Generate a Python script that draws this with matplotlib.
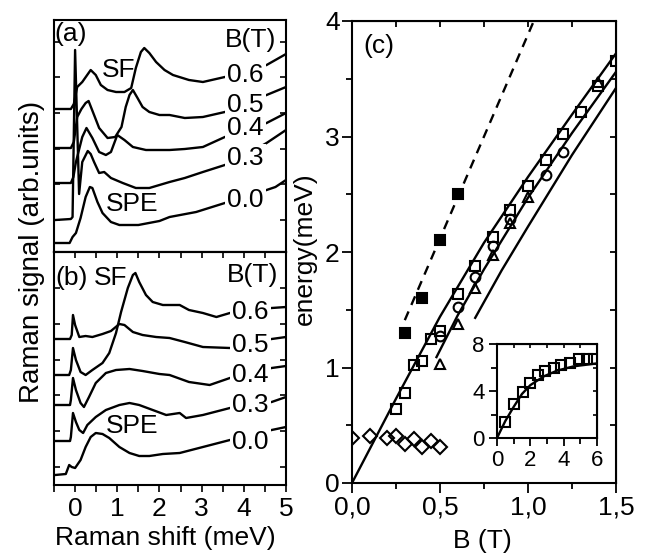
import matplotlib
matplotlib.use('Agg')
import matplotlib.pyplot as plt
from matplotlib.ticker import FixedLocator, MultipleLocator

plt.rcParams['font.family'] = ['Liberation Sans', 'DejaVu Sans']
plt.rcParams['font.size'] = 19

# ---------------- data: panel (a) Raman spectra (offset, arb. units) ----------
a_fields = ['0.6', '0.5', '0.4', '0.3', '0.0']
a06_x = [-0.47, -0.1, -0.03, 0.05, 0.17, 0.37, 0.49, 0.61, 0.77, 0.97, 1.17, 1.33, 1.44, 1.56, 1.64, 1.76, 1.92, 2.12, 2.32, 2.7, 3.03, 3.55, 4.0, 4.54, 5.0]
a06_y = [143, 143, 148, 165, 170, 182, 177, 167, 162, 160, 160, 164, 184, 200, 204, 199, 190, 182, 177, 172, 170, 175, 180, 187, 198]
a05_x = [-0.47, -0.1, -0.03, 0.05, 0.15, 0.25, 0.32, 0.45, 0.57, 0.77, 0.95, 1.1, 1.2, 1.29, 1.37, 1.48, 1.6, 1.76, 2.0, 2.24, 2.6, 3.03, 3.55, 4.0, 4.54, 5.0]
a05_y = [104, 104, 110, 135, 143, 149, 151, 137, 124, 114, 115, 125, 145, 157, 162, 154, 145, 140, 137, 137, 134, 135, 140, 148, 157, 165]
a04_x = [-0.47, -0.1, -0.04, 0.02, 0.08, 0.17, 0.27, 0.41, 0.57, 0.73, 0.85, 1.0, 1.17, 1.37, 1.68, 2.0, 2.24, 2.6, 3.03, 3.55, 4.0, 4.54, 5.0]
a04_y = [69, 69, 75, 90, 100, 115, 124, 114, 100, 97, 100, 117, 112, 105, 102, 102, 102, 103, 105, 115, 121, 129, 139]
a03_x = [-0.47, -0.1, -0.06, 0.0, 0.095, 0.17, 0.3, 0.37, 0.45, 0.57, 0.69, 0.85, 1.13, 1.44, 1.76, 2.24, 2.6, 3.03, 3.55, 4.0, 4.54, 5.0]
a03_y = [32, 33, 35, 202, 58, 90, 101, 98, 90, 79, 80, 74, 69, 64, 64, 70, 74, 80, 87, 96, 109, 122]
a00_x = [-0.47, -0.13, -0.06, 0.02, 0.13, 0.25, 0.35, 0.41, 0.53, 0.65, 0.85, 1.05, 1.5, 2.0, 2.24, 2.87, 3.55, 4.0, 4.54, 4.75, 5.0]
a00_y = [9, 9, 15, 19, 34, 55, 65, 64, 50, 39, 30, 27, 27, 31, 35, 40, 49, 55, 62, 65, 72]
a_label_y = [177, 147, 124, 94, 52]

# ---------------- data: panel (b) ----------------
b06_x = [-0.47, -0.14, -0.1, -0.05, 0.02, 0.13, 0.25, 0.41, 0.65, 0.81, 0.97, 1.09, 1.25, 1.37, 1.43, 1.52, 1.68, 1.84, 2.08, 2.48, 2.7, 3.03, 3.35, 3.67, 4.0, 4.66, 5.0]
b06_y = [110, 110, 115, 137, 125, 113, 110, 115, 122, 132, 152, 173, 197, 210, 212, 203, 190, 183, 180, 180, 175, 172, 168, 172, 174, 177, 178]
b05_x = [-0.47, -0.12, -0.08, -0.05, 0.0, 0.1, 0.25, 0.41, 0.65, 0.85, 1.05, 1.17, 1.37, 1.6, 1.92, 2.24, 2.6, 3.03, 3.67, 4.0, 4.66, 5.0]
b05_y = [146, 146, 150, 170, 160, 148, 149, 148, 151, 154, 161, 160, 153, 150, 148, 147, 143, 138, 137, 140, 146, 148]
b04_x = [-0.47, -0.12, -0.1, -0.05, 0.02, 0.13, 0.21, 0.33, 0.49, 0.73, 0.97, 1.29, 1.6, 2.0, 2.24, 2.7, 3.19, 3.67, 4.0, 4.66, 5.0]
b04_y = [80, 80, 85, 107, 95, 82, 78, 88, 102, 112, 115, 116, 114, 111, 110, 103, 100, 107, 110, 117, 119]
b03_x = [-0.47, -0.12, -0.1, -0.05, 0.02, 0.1, 0.19, 0.29, 0.49, 0.73, 1.05, 1.29, 1.52, 1.84, 2.16, 2.48, 2.63, 3.03, 3.67, 4.0, 4.66, 5.0]
b03_y = [44, 44, 48, 72, 63, 55, 52, 60, 68, 75, 80, 82, 80, 75, 70, 72, 67, 70, 77, 79, 83, 88]
b00_x = [-0.47, -0.22, -0.14, -0.08, 0.0, 0.13, 0.25, 0.37, 0.49, 0.65, 0.81, 1.05, 1.29, 1.52, 1.76, 2.08, 2.48, 3.03, 3.67, 4.0, 4.66, 5.0]
b00_y = [10, 11, 20, 18, 17, 25, 38, 48, 52, 51, 47, 38, 32, 29, 29, 31, 32, 38, 45, 48, 55, 58]
b_label_y = [173, 140, 110, 80, 43]

# ---------------- data: panel (c) ----------------
sq_B = [0.25, 0.3, 0.35, 0.4, 0.45, 0.5, 0.6, 0.7, 0.8, 0.9, 1.0, 1.1, 1.2, 1.3, 1.4, 1.5]
sq_E = [0.64, 0.78, 1.02, 1.06, 1.25, 1.32, 1.64, 1.88, 2.13, 2.36, 2.57, 2.80, 3.02, 3.21, 3.44, 3.65]
circ_B = [0.5, 0.6, 0.7, 0.8, 0.9, 1.1, 1.2]
circ_E = [1.27, 1.52, 1.78, 2.05, 2.29, 2.67, 2.87]
tri_B = [0.5, 0.6, 0.7, 0.8, 0.9, 1.0, 1.4]
tri_E = [1.03, 1.38, 1.69, 1.97, 2.25, 2.48, 3.47]
fill_B = [0.3, 0.4, 0.5, 0.6]
fill_E = [1.3, 1.6, 2.1, 2.5]
dia_B = [0.0, 0.1, 0.2, 0.25, 0.3, 0.35, 0.4, 0.45, 0.5]
dia_E = [0.39, 0.41, 0.39, 0.41, 0.34, 0.38, 0.31, 0.36, 0.31]
dash_B = [0.3, 1.05]
dash_E = [1.41, 4.06]
line1_B = [0.0, 0.25, 0.5, 0.75, 1.0, 1.25, 1.5]
line1_E = [0.0, 0.73, 1.44, 2.08, 2.65, 3.19, 3.72]
line2_B = [0.48, 0.6, 0.75, 1.0, 1.25, 1.5]
line2_E = [1.09, 1.45, 1.85, 2.47, 3.03, 3.56]
line3_B = [0.7, 0.85, 1.0, 1.25, 1.5]
line3_E = [1.43, 1.84, 2.22, 2.84, 3.42]

# inset
ins_x = [0.5, 1.04, 1.54, 1.96, 2.44, 2.9, 3.4, 3.84, 4.4, 4.9, 5.4, 5.8]
ins_y = [1.4, 2.86, 3.94, 4.68, 5.37, 5.66, 5.97, 6.2, 6.38, 6.74, 6.74, 6.74]
insl_x = [0.0, 0.5, 1.0, 1.5, 2.0, 2.8, 3.6, 4.6, 6.0]
insl_y = [0.0, 1.45, 2.65, 3.75, 4.5, 5.24, 5.73, 6.1, 6.35]

c_xticks = [0.0, 0.5, 1.0, 1.5]
c_xticklabels = ['0,0', '0,5', '1,0', '1,5']

# ---------------- layout ----------------
W, H = 645, 556
fig = plt.figure(figsize=(W / 100, H / 100), dpi=100)


def rect(l, t, r, b):
    return [l / W, 1 - b / H, (r - l) / W, (b - t) / H]


axa = fig.add_axes(rect(54, 20, 286, 252))
axb = fig.add_axes(rect(54, 252, 286, 485))
axc = fig.add_axes(rect(352, 21, 616, 483))
axi = fig.add_axes(rect(497, 344, 597, 438))

LW = 1.7
k = 'black'

# panel (a)
for xs, ys in [(a06_x, a06_y), (a05_x, a05_y), (a04_x, a04_y), (a03_x, a03_y), (a00_x, a00_y)]:
    axa.plot(xs, ys, color=k, lw=LW, zorder=2)
axa.set_xlim(-0.5, 5)
axa.set_ylim(0, 232)
axa.tick_params(axis='x', bottom=False, labelbottom=False)
axa.yaxis.set_major_locator(FixedLocator([32, 67.7, 103.4, 139, 175, 210.5]))
axa.tick_params(axis='y', direction='in', left=True, right=True, labelleft=False,
                length=4, width=1.2)
bb = dict(boxstyle='square,pad=0.08', fc='white', ec='none')
for lab, yy in zip(a_fields, a_label_y):
    axa.text(3.6, yy, lab, ha='left', va='center', bbox=bb, zorder=5)
axa.text(-0.48, 218, '(a)', ha='left', va='center')
axa.text(1.03, 182, 'SF', ha='center', va='center')
axa.text(1.36, 48, 'SPE', ha='center', va='center')
axa.text(4.15, 212, 'B(T)', ha='center', va='center')

# panel (b)
for xs, ys in [(b06_x, b06_y), (b05_x, b05_y), (b04_x, b04_y), (b03_x, b03_y), (b00_x, b00_y)]:
    axb.plot(xs, ys, color=k, lw=LW, zorder=2)
axb.set_xlim(-0.5, 5)
axb.set_ylim(0, 233)
axb.xaxis.set_major_locator(FixedLocator([0, 1, 2, 3, 4, 5]))
axb.xaxis.set_minor_locator(FixedLocator([-0.5, 0.5, 1.5, 2.5, 3.5, 4.5]))
axb.tick_params(axis='x', which='both', direction='out', length=5, width=1.2, pad=4)
axb.yaxis.set_major_locator(FixedLocator([18.3, 54, 89.7, 125.4, 161, 196.7]))
axb.tick_params(axis='y', direction='in', left=True, right=True, labelleft=False,
                length=4, width=1.2)
secb = axb.secondary_xaxis('top')
secb.xaxis.set_major_locator(MultipleLocator(0.5))
secb.tick_params(axis='x', direction='in', length=4, width=1.2, labeltop=False)
secb.spines['top'].set_linewidth(1.5)
for lab, yy in zip(a_fields, b_label_y):
    axb.text(3.72, yy, lab, ha='left', va='center', bbox=bb, zorder=5)
axb.text(-0.46, 207, '(b)', ha='left', va='center')
axb.text(0.85, 207, 'SF', ha='center', va='center')
axb.text(1.36, 59, 'SPE', ha='center', va='center')
axb.text(4.2, 210, 'B(T)', ha='center', va='center')

for ax in (axa, axb):
    for s in ax.spines.values():
        s.set_linewidth(1.5)

# panel (c)
axc.plot(line1_B, line1_E, color=k, lw=LW)
axc.plot(line2_B, line2_E, color=k, lw=LW)
axc.plot(line3_B, line3_E, color=k, lw=LW)
axc.plot(dash_B, dash_E, color=k, lw=LW, ls=(0, (4, 3)))
mk = dict(ls='none', mec=k, mew=1.5, clip_on=True)
axc.plot(sq_B, sq_E, marker='s', ms=7, mfc='none', **mk)
axc.plot(circ_B, circ_E, marker='o', ms=7, mfc='none', **mk)
axc.plot(tri_B, tri_E, marker='^', ms=7.5, mfc='none', **mk)
axc.plot(fill_B, fill_E, marker='s', ms=7.5, mfc=k, **mk)
axc.plot(dia_B, dia_E, marker='D', ms=7, mfc='none', **mk)
axc.set_xlim(0, 1.5)
axc.set_ylim(0, 4)
axc.set_xticks(c_xticks)
axc.set_xticklabels(c_xticklabels)
axc.xaxis.set_minor_locator(FixedLocator([0.25, 0.75, 1.25]))
axc.set_yticks([0, 1, 2, 3, 4])
axc.yaxis.set_minor_locator(FixedLocator([0.5, 1.5, 2.5, 3.5]))
axc.tick_params(which='major', direction='out', length=7, width=1.3, pad=2)
axc.tick_params(which='minor', direction='out', length=4.5, width=1.3)
for s in axc.spines.values():
    s.set_linewidth(1.5)
sct = axc.secondary_xaxis('top')
sct.xaxis.set_major_locator(MultipleLocator(0.25))
sct.tick_params(axis='x', direction='in', length=4, width=1.3, labeltop=False)
scr = axc.secondary_yaxis('right')
scr.yaxis.set_major_locator(MultipleLocator(0.5))
scr.tick_params(axis='y', direction='in', length=4, width=1.3, labelright=False)
axc.text(0.065, 3.78, '(c)', ha='left', va='center')

# inset
axi.set_facecolor('white')
axi.plot(insl_x, insl_y, color=k, lw=LW)
axi.plot(ins_x, ins_y, marker='s', ms=6.5, mfc='none', **mk)
axi.set_xlim(0, 6)
axi.set_ylim(0, 8)
axi.set_xticks([0, 2, 4, 6])
axi.xaxis.set_minor_locator(FixedLocator([1, 3, 5]))
axi.set_yticks([0, 4, 8])
axi.yaxis.set_minor_locator(FixedLocator([2, 6]))
axi.tick_params(which='major', direction='out', length=6, width=1.3, labelsize=16, pad=3)
axi.tick_params(which='minor', direction='out', length=4, width=1.3)
for s in axi.spines.values():
    s.set_linewidth(1.5)
sit = axi.secondary_xaxis('top')
sit.xaxis.set_major_locator(MultipleLocator(1))
sit.tick_params(axis='x', direction='in', length=3, width=1.2, labeltop=False)
sir = axi.secondary_yaxis('right')
sir.yaxis.set_major_locator(MultipleLocator(2))
sir.tick_params(axis='y', direction='in', length=3, width=1.2, labelright=False)

# figure-level axis labels
fig.text(32 / W, 1 - 252 / H, 'Raman signal (arb.units)', rotation=90,
         ha='center', va='center', fontsize=20)
fig.text(165 / W, 1 - 538 / H, 'Raman shift (meV)', ha='center', va='center')
fig.text(305 / W, 1 - 249 / H, 'energy(meV)', rotation=90, ha='center', va='center')
fig.text(482 / W, 1 - 541 / H, 'B (T)', ha='center', va='center')

fig.savefig('out.png', dpi=100)
